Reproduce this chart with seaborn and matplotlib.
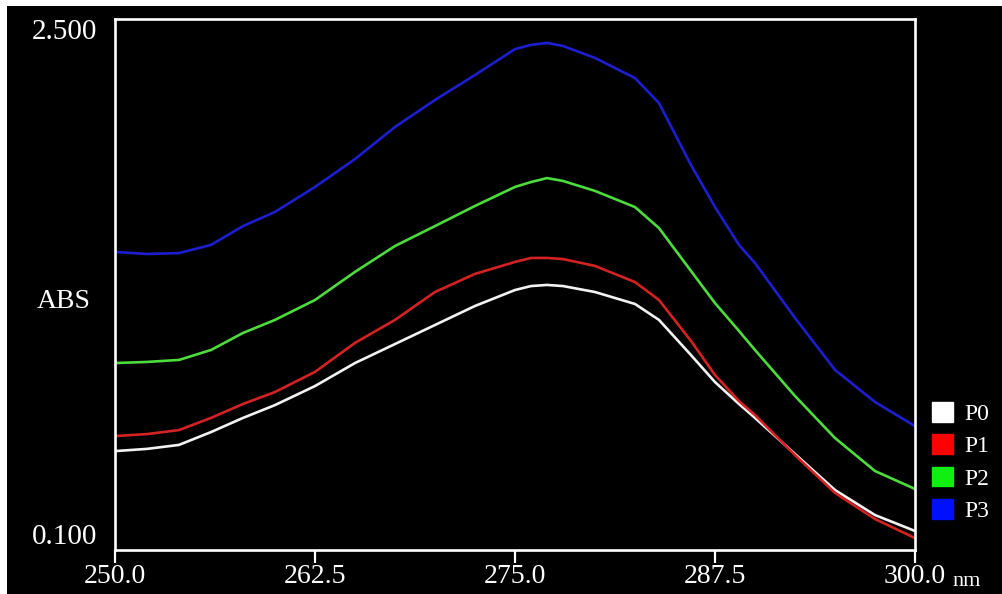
import numpy as np
import pandas as pd
import seaborn as sns
import matplotlib.pyplot as plt
from matplotlib.patches import Patch, Rectangle

plt.style.use('dark_background')
sns.set_style('dark', {'axes.facecolor': 'black', 'figure.facecolor': 'black'})
plt.rcParams['font.family'] = ['Liberation Serif', 'DejaVu Serif']

# wavelength (nm)
wl = [250, 252, 254, 256, 258, 260, 262.5, 265, 267.5, 270, 272.5, 275, 276,
      277, 278, 280, 282.5, 284, 286, 287.5, 289, 290, 292.5, 295, 297.5, 300]

# absorbance
p0 = [0.547, 0.557, 0.575, 0.633, 0.697, 0.755, 0.841, 0.945, 1.031, 1.117,
      1.203, 1.275, 1.293, 1.298, 1.293, 1.266, 1.212, 1.140, 0.981, 0.859,
      0.760, 0.697, 0.534, 0.371, 0.258, 0.186]
p1 = [0.615, 0.624, 0.642, 0.697, 0.760, 0.814, 0.905, 1.036, 1.140, 1.266,
      1.348, 1.402, 1.420, 1.420, 1.415, 1.384, 1.311, 1.230, 1.045, 0.891,
      0.773, 0.710, 0.529, 0.358, 0.240, 0.154]
p2 = [0.945, 0.950, 0.959, 1.004, 1.081, 1.140, 1.230, 1.357, 1.474, 1.564,
      1.655, 1.741, 1.763, 1.781, 1.768, 1.723, 1.650, 1.555, 1.361, 1.216,
      1.090, 1.004, 0.796, 0.606, 0.457, 0.376]
p3 = [1.447, 1.438, 1.442, 1.479, 1.564, 1.628, 1.741, 1.867, 2.012, 2.134,
      2.247, 2.364, 2.383, 2.392, 2.378, 2.324, 2.233, 2.120, 1.840, 1.650,
      1.479, 1.397, 1.149, 0.914, 0.769, 0.660]

names = ['P0', 'P1', 'P2', 'P3']
line_cols = {'P0': '#f2f2f2', 'P1': '#d42222', 'P2': '#4cdc3c', 'P3': '#1c1ed0'}
box_cols = ['#ffffff', '#ff0000', '#10f010', '#0010ff']

df = pd.concat([pd.DataFrame({'nm': wl, 'abs': v, 'sample': n})
                for n, v in zip(names, [p0, p1, p2, p3])])

fig = plt.figure(figsize=(10.02, 5.94), dpi=100)
ax = fig.add_axes([115/1002, 44/594, 800/1002, 531/594])

sns.lineplot(data=df, x='nm', y='abs', hue='sample', palette=line_cols,
             linewidth=1.9, legend=False, ax=ax, sort=False)

ax.set_xlim(250, 300)
ax.set_ylim(0.1, 2.5)
ax.set_xlabel('')
ax.set_ylabel('')
for s in ax.spines.values():
    s.set_color('white')
    s.set_linewidth(1.9)
    s.set_visible(True)

ax.set_xticks([250, 262.5, 275, 287.5, 300])
ax.set_xticklabels(['250.0', '262.5', '275.0', '287.5', '300.0'])
ax.tick_params(axis='x', direction='out', length=9, width=1.6, colors='white',
               labelsize=20, pad=1, bottom=True)
ax.set_yticks([2.5, 0.1])
ax.set_yticklabels(['2.500', '0.100'])
ax.tick_params(axis='y', length=0, labelsize=21, pad=13, colors='white', left=True)
yl = ax.get_yticklabels()
yl[0].set_verticalalignment('top')
yl[1].set_verticalalignment('bottom')
ax.grid(False)

fig.text(64/1002, 1 - 302/594, 'ABS', ha='center', va='center',
         fontsize=20, color='white')
fig.text(952/1002, 1 - 582/594, 'nm', ha='left', va='center',
         fontsize=16, color='white')

handles = [Patch(facecolor=c, edgecolor=c, label=n) for c, n in zip(box_cols, names)]
fig.legend(handles=handles, loc='upper left', bbox_to_anchor=(932/1002, 1 - 402/594),
           frameon=False, fontsize=17, handlelength=0.9, handleheight=0.9,
           handletextpad=0.45, labelspacing=0.4, labelcolor='white',
           borderpad=0, borderaxespad=0)

# white scan border on top and left
fig.patches.append(Rectangle((0, 1 - 6/594), 1, 6/594, transform=fig.transFigure,
                             facecolor='white', edgecolor='none'))
fig.patches.append(Rectangle((0, 0), 7/1002, 1, transform=fig.transFigure,
                             facecolor='white', edgecolor='none'))

fig.savefig('out.png', dpi=100, facecolor='black')
